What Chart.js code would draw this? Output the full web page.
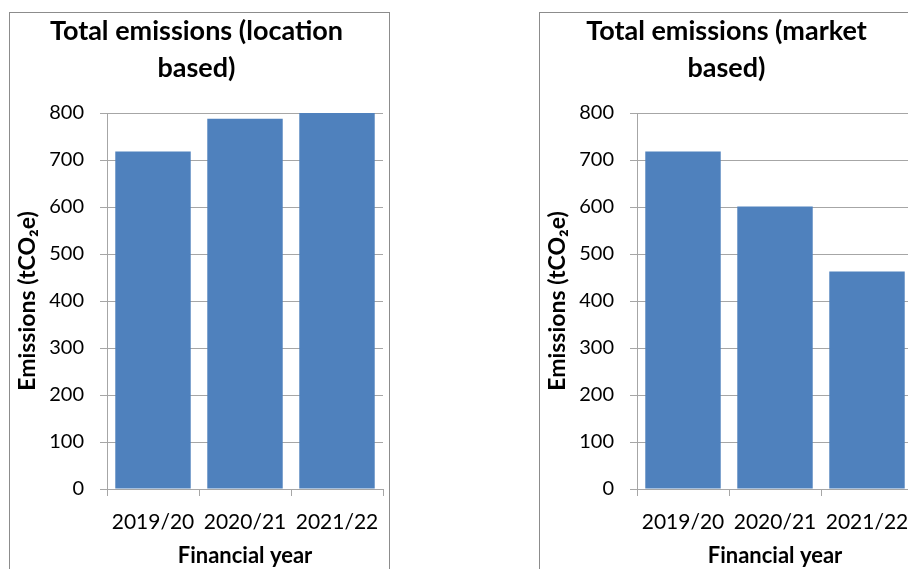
<!DOCTYPE html>
<html>
<head>
<meta charset="utf-8">
<script src="https://cdn.jsdelivr.net/npm/chart.js@4.4.0/dist/chart.umd.min.js"></script>
<style>
html, body { margin:0; padding:0; width:908px; height:569px; overflow:hidden; background:#fff; }
.box { position:absolute; top:12px; width:379px; height:600px; border:1px solid #8c8c8c; background:#fff; }
#box1 { left:9px; }
#box2 { left:539px; }
canvas { display:block; }
</style>
</head>
<body>
<div class="box" id="box1"><canvas id="chart_location" width="379" height="580"></canvas></div>
<div class="box" id="box2"><canvas id="chart_market" width="379" height="580"></canvas></div>
<script>
// datos
var years = ['2019/20', '2020/21', '2021/22'];
var location_based = [718, 788, 800];
var market_based = [718, 601, 463];
var title_location = ['Total emissions (location', 'based)'];
var title_market = ['Total emissions (market', 'based)'];
var y_max = 800;
var y_step = 100;

var bar_color = '#4F81BD';
var grid_color = '#a6a6a6';
var font_family = 'Lato, "Open Sans", sans-serif';

function makeChart(id, titulo, valores) {
  var ctx = document.getElementById(id).getContext('2d');
  return new Chart(ctx, {
    type: 'bar',
    data: {
      labels: years,
      datasets: [{
        label: 'Emissions',
        data: valores,
        backgroundColor: bar_color,
        borderWidth: 0,
        categoryPercentage: 1.0,
        barPercentage: 0.82
      }]
    },
    options: {
      responsive: false,
      animation: false,
      layout: { padding: { left: 0, right: 6, top: 0, bottom: 0 } },
      plugins: {
        legend: { display: false },
        tooltip: { enabled: false },
        title: {
          display: true,
          text: titulo,
          color: '#000',
          font: { family: font_family, size: 27, weight: 'bold', lineHeight: '37px' },
          padding: { top: 0, bottom: 26 }
        }
      },
      scales: {
        x: {
          offset: true,
          grid: { display: true, drawOnChartArea: false, offset: true, tickLength: 7, color: grid_color },
          border: { display: true, color: grid_color },
          ticks: { color: '#000', padding: 14, font: { family: font_family, size: 21 } },
          title: {
            display: true,
            text: 'Financial year',
            color: '#000',
            font: { family: font_family, size: 22, weight: 'bold' },
            padding: { top: 0, bottom: 24 }
          },
          afterFit: function (s) {
            s.height = 104;
            s.paddingLeft = 0;
            s.paddingRight = 0;
          }
        },
        y: {
          min: 0,
          max: y_max,
          ticks: { stepSize: y_step, color: '#000', padding: 16, font: { family: font_family, size: 20 } },
          grid: { display: true, drawOnChartArea: true, tickLength: 7, color: grid_color },
          border: { display: true, color: grid_color },
          title: {
            display: true,
            text: 'Emissions (tCO\u2082e)',
            color: '#000',
            font: { family: font_family, size: 23, weight: 'bold' },
            padding: { top: 4, bottom: 0 }
          },
          afterFit: function (s) { s.width = 97; }
        }
      }
    }
  });
}

var chart1 = makeChart('chart_location', title_location, location_based);
var chart2 = makeChart('chart_market', title_market, market_based);
</script>
</body>
</html>
